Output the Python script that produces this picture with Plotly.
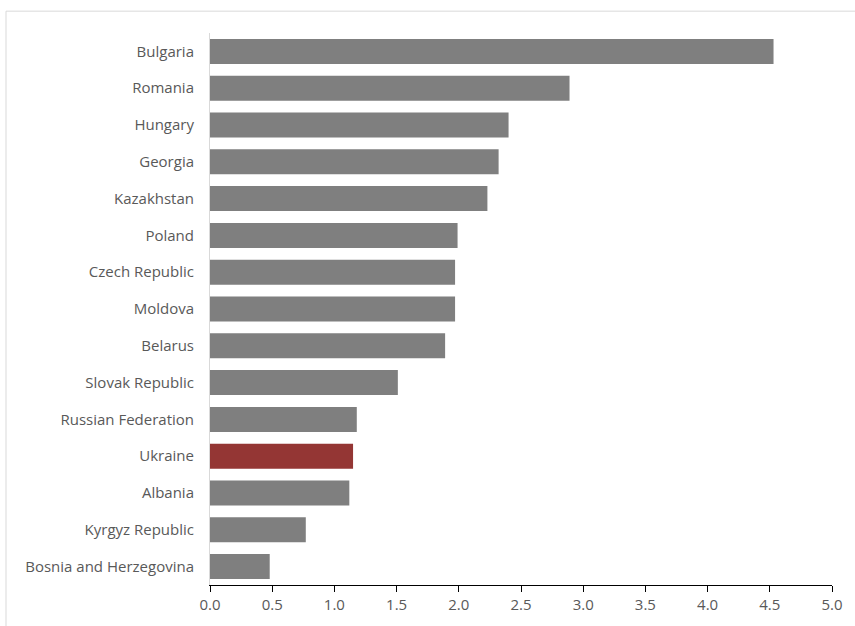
import plotly.graph_objects as go

countries = [
    "Bulgaria", "Romania", "Hungary", "Georgia", "Kazakhstan", "Poland",
    "Czech Republic", "Moldova", "Belarus", "Slovak Republic",
    "Russian Federation", "Ukraine", "Albania", "Kyrgyz Republic",
    "Bosnia and Herzegovina",
]
values = [4.53, 2.89, 2.40, 2.32, 2.23, 1.99, 1.97, 1.97, 1.89, 1.51,
          1.18, 1.15, 1.12, 0.77, 0.48]
highlight = "Ukraine"

tick_vals = [0, 0.5, 1, 1.5, 2, 2.5, 3, 3.5, 4, 4.5, 5]
tick_text = ["0.0", "0.5", "1.0", "1.5", "2.0", "2.5", "3.0", "3.5", "4.0", "4.5", "5.0"]

colors = ["#943634" if c == highlight else "#7f7f7f" for c in countries]

W, H = 855, 626
ml, mr, mt, mb = 210, 23, 33, 37
pw, ph = W - ml - mr, H - mt - mb

fig = go.Figure(go.Bar(
    x=values, y=countries, orientation="h",
    marker=dict(color=colors, line=dict(width=0)),
))

label_font = dict(family="Open Sans", size=15, color="#595959")

fig.update_layout(
    width=W, height=H,
    margin=dict(l=ml, r=mr, t=mt, b=mb),
    paper_bgcolor="white", plot_bgcolor="white",
    bargap=0.32,
    showlegend=False,
    font=label_font,
    xaxis=dict(
        range=[0, 5], tickvals=tick_vals, ticktext=tick_text,
        showgrid=False, zeroline=False,
        showline=True, linecolor="black", linewidth=1,
        ticks="outside", ticklen=6, tickcolor="black",
        tickfont=label_font,
    ),
    yaxis=dict(
        autorange="reversed", showgrid=False,
        showline=True, linecolor="#d9d9d9", linewidth=1,
        ticks="", ticklabelstandoff=12,
        tickfont=label_font,
    ),
    shapes=[dict(
        type="rect", xref="paper", yref="paper",
        x0=(6 - ml) / pw, x1=(W + 10 - ml) / pw,
        y0=-0.2, y1=(H - mb - 11) / ph,
        line=dict(color="#d9d9d9", width=1), fillcolor="rgba(0,0,0,0)",
        layer="below",
    )],
)

fig.write_html("out.html")
